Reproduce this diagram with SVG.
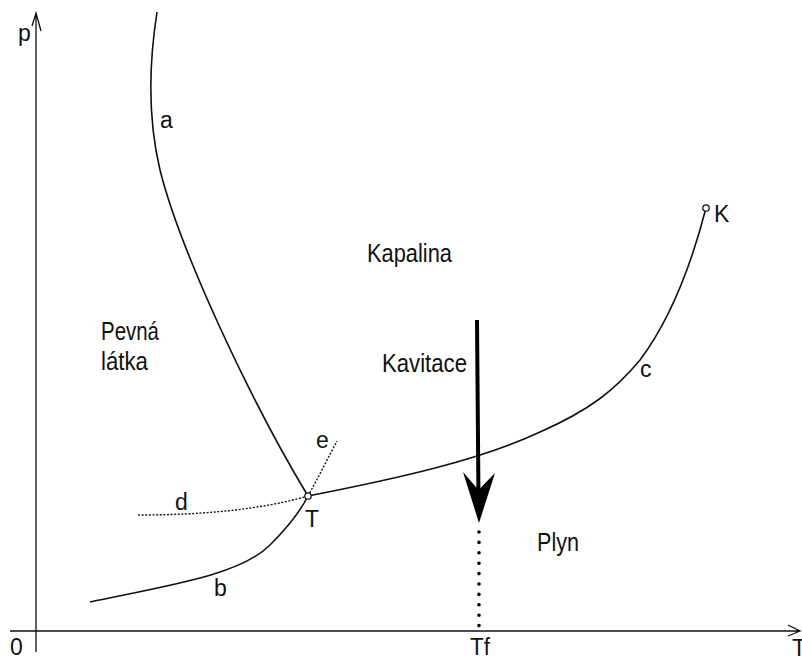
<svg xmlns="http://www.w3.org/2000/svg" width="802" height="660" viewBox="0 0 802 660">
<style>
text{font-family:"Liberation Sans",Arial,sans-serif;font-size:25px;fill:#111}
.lbl{font-size:23px}
.ax{stroke:#111;stroke-width:1.3;fill:none}
.cv{stroke:#111;stroke-width:1.6;fill:none}
.dt{stroke:#111;stroke-width:1.4;fill:none;stroke-dasharray:2 1.6}
.pt{fill:#fff;stroke:#111;stroke-width:1.3}
</style>
<rect width="802" height="660" fill="#fff"/>
<g id="axes">
<path class="ax" d="M36,652 V13 M32,26 L36,13 L41,31"/>
<path class="ax" d="M10,631 H800 M788,625 L800,631 L788,636"/>
<text x="18" y="41" class="lbl">p</text>
<text x="10" y="655" class="lbl">0</text>
<text x="792" y="656" class="lbl">T</text>
<text x="470" y="655" class="lbl" textLength="20" lengthAdjust="spacingAndGlyphs">Tf</text>
</g>
<g id="connectors">
<path id="curve-a" class="cv" d="M157,12 C148,70 148,120 160,170 C180,250 250,400 308,496"/>
<path id="curve-b" class="cv" d="M90,602 C170,585 240,575 270,545 C290,525 302,508 308,496"/>
<path id="curve-c" class="cv" d="M308,496 C400,478 480,460 540,432 C590,410 615,390 640,360 C670,320 690,270 706,208"/>
<path id="curve-d" class="dt" d="M138,515 C200,515 260,510 308,496"/>
<path id="curve-e" class="dt" d="M308,496 C318,478 328,458 337,441"/>
<g id="kavitace-arrow">
<path d="M477,320 L478.5,500" stroke="#000" stroke-width="4" fill="none"/>
<path d="M479,523 L463,472 L478.5,490 L495,473 Z" fill="#000"/>
<path d="M479,532 V626" stroke="#000" stroke-width="3.6" stroke-linecap="round" stroke-dasharray="0 10.4" fill="none"/>
</g>
</g>
<g id="node-T"><circle class="pt" cx="308" cy="496" r="3.2"/><text x="305" y="527" class="lbl">T</text></g>
<g id="node-K"><circle class="pt" cx="706" cy="208" r="3.2"/><text x="714" y="222" class="lbl">K</text></g>
<g id="labels">
<text x="160" y="128" class="lbl">a</text>
<text x="214" y="596" class="lbl">b</text>
<text x="640" y="377" class="lbl">c</text>
<text x="175" y="510" class="lbl">d</text>
<text x="316" y="448" class="lbl">e</text>
</g>
<g id="region-kapalina"><text x="367" y="262" textLength="85" lengthAdjust="spacingAndGlyphs">Kapalina</text></g>
<g id="region-pevna"><text x="101" y="340" textLength="58" lengthAdjust="spacingAndGlyphs">Pevná</text><text x="101" y="370" textLength="47" lengthAdjust="spacingAndGlyphs">látka</text></g>
<g id="region-kavitace"><text x="382" y="372" textLength="85" lengthAdjust="spacingAndGlyphs">Kavitace</text></g>
<g id="region-plyn"><text x="537" y="551" textLength="42" lengthAdjust="spacingAndGlyphs">Plyn</text></g>
</svg>
